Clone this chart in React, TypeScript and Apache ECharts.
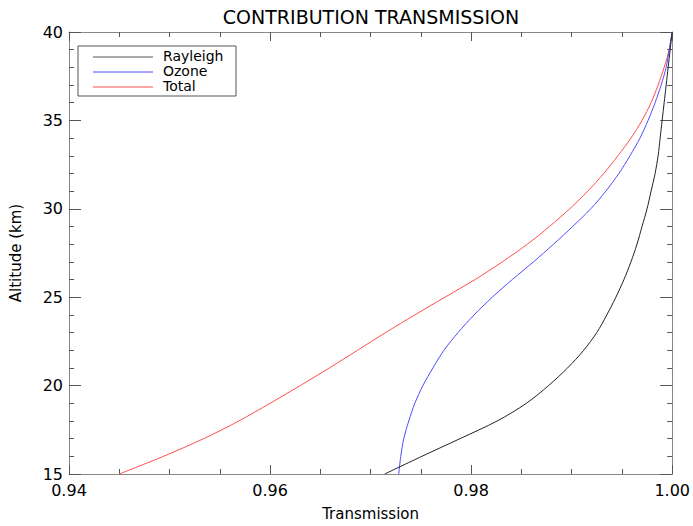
import React, { useEffect, useRef } from "react";
import * as echarts from "echarts";

const altitudes = [15, 16, 17, 18, 19, 20, 21, 22, 23, 24, 25, 26, 27, 28, 29, 30, 31, 32, 33, 34, 35, 36, 37, 38, 39, 40];
const rayleigh = [0.9714, 0.9751, 0.9789, 0.9826, 0.9855, 0.9877, 0.9896, 0.9912, 0.9925, 0.9935, 0.9944, 0.9952, 0.9959, 0.9965, 0.997, 0.9975, 0.9979, 0.9983, 0.9986, 0.9988, 0.999, 0.9992, 0.9994, 0.9996, 0.9998, 1.0];
const ozone = [0.9728, 0.973, 0.9733, 0.9738, 0.9744, 0.9752, 0.9762, 0.9773, 0.9787, 0.9803, 0.9821, 0.9841, 0.9862, 0.9882, 0.9901, 0.9919, 0.9934, 0.9947, 0.9958, 0.9968, 0.9976, 0.9983, 0.9989, 0.9994, 0.9997, 1.0];
const total = [0.945, 0.9494, 0.9534, 0.9569, 0.96, 0.963, 0.9659, 0.9687, 0.9715, 0.9744, 0.9774, 0.9804, 0.9831, 0.9856, 0.9878, 0.9898, 0.9916, 0.9932, 0.9946, 0.9959, 0.997, 0.9979, 0.9986, 0.9992, 0.9997, 1.0];
const seriesNames = ["Rayleigh", "Ozone", "Total"];
const seriesColors = ["#222222", "#4d4dff", "#ff4d4d"];
const legendColors = ["#aaaaaa", "#4d4dff", "#ff4d4d"];
const titleText = "CONTRIBUTION TRANSMISSION";
const xName = "Transmission";
const yName = "Altitude (km)";

const FONT = "DejaVu Sans";

export default function App() {
  const ref = useRef<HTMLDivElement>(null);
  useEffect(() => {
    if (!ref.current) return;
    const chart = echarts.init(ref.current, null, { renderer: "svg" });
    const values = [rayleigh, ozone, total];
    const gridLeft = 68, gridTop = 32, gridRight = 19, gridBottom = 46;

    const xCommon = {
      type: "value" as const,
      min: 0.94,
      max: 1.0,
      interval: 0.02,
      axisLine: { show: true, lineStyle: { color: "#888", width: 1 } },
      axisTick: { show: true, inside: true, length: 9, lineStyle: { color: "#555" } },
      minorTick: { show: true, splitNumber: 4, length: 5, lineStyle: { color: "#555" } },
      splitLine: { show: false },
      minorSplitLine: { show: false },
    };
    const yCommon = {
      type: "value" as const,
      min: 15,
      max: 40,
      interval: 5,
      axisLine: { show: true, lineStyle: { color: "#888", width: 1 } },
      axisTick: { show: true, inside: true, length: 12, lineStyle: { color: "#555" } },
      minorTick: { show: true, splitNumber: 5, length: 5, lineStyle: { color: "#555" } },
      splitLine: { show: false },
      minorSplitLine: { show: false },
    };

    const legendGraphics: any[] = [
      {
        type: "rect",
        shape: { x: 78, y: 46, width: 158, height: 50 },
        style: { fill: "#fff", stroke: "#555", lineWidth: 1 },
        z: 100,
      },
    ];
    const rowY = [56, 71, 86];
    seriesNames.forEach((n, i) => {
      legendGraphics.push({
        type: "line",
        shape: { x1: 93, y1: rowY[i] + 1, x2: 153, y2: rowY[i] + 1 },
        style: { stroke: legendColors[i], lineWidth: i === 0 ? 2 : 1 },
        z: 101,
      });
      legendGraphics.push({
        type: "text",
        x: 163,
        y: rowY[i],
        style: {
          text: n,
          fontFamily: FONT,
          fontSize: 14,
          lineHeight: 12,
          fill: "#000",
          textAlign: "left",
          textVerticalAlign: "middle",
        },
        z: 101,
      });
    });

    chart.setOption({
      animation: false,
      backgroundColor: "#fff",
      grid: { left: gridLeft, top: gridTop, right: gridRight, bottom: gridBottom, containLabel: false },
      xAxis: [
        {
          ...xCommon,
          position: "bottom",
          name: xName,
          nameLocation: "middle",
          nameGap: 32,
          nameTextStyle: { fontFamily: FONT, fontSize: 15, color: "#000" },
          axisLabel: {
            show: true,
            margin: 8,
            fontFamily: FONT,
            fontSize: 16,
            color: "#000",
            formatter: (v: number) => v.toFixed(2),
          },
        },
        { ...xCommon, position: "top", axisLabel: { show: false } },
      ],
      yAxis: [
        {
          ...yCommon,
          position: "left",
          name: yName,
          nameLocation: "middle",
          nameGap: 46,
          nameRotate: 90,
          nameTextStyle: { fontFamily: FONT, fontSize: 15, color: "#000" },
          axisLabel: { show: true, margin: 6, fontFamily: FONT, fontSize: 16, color: "#000" },
        },
        { ...yCommon, position: "right", axisLabel: { show: false } },
      ],
      series: seriesNames.map((n, i) => ({
        name: n,
        type: "line",
        xAxisIndex: 0,
        yAxisIndex: 0,
        data: altitudes.map((a, j) => [values[i][j], a]),
        showSymbol: false,
        smooth: 0.3,
        lineStyle: { color: seriesColors[i], width: 1 },
        itemStyle: { color: seriesColors[i] },
        z: 3 - i + 2,
      })),
      graphic: [
        {
          type: "text",
          x: 371,
          y: 17,
          style: {
            text: titleText,
            fontFamily: FONT,
            fontSize: 19,
            fill: "#000",
            textAlign: "center",
            textVerticalAlign: "middle",
          },
        },
        ...legendGraphics,
      ],
    });
    return () => chart.dispose();
  }, []);
  return (
    <div
      ref={ref}
      style={{ position: "absolute", left: 0, top: 0, width: 693, height: 526, background: "#fff" }}
    />
  );
}
